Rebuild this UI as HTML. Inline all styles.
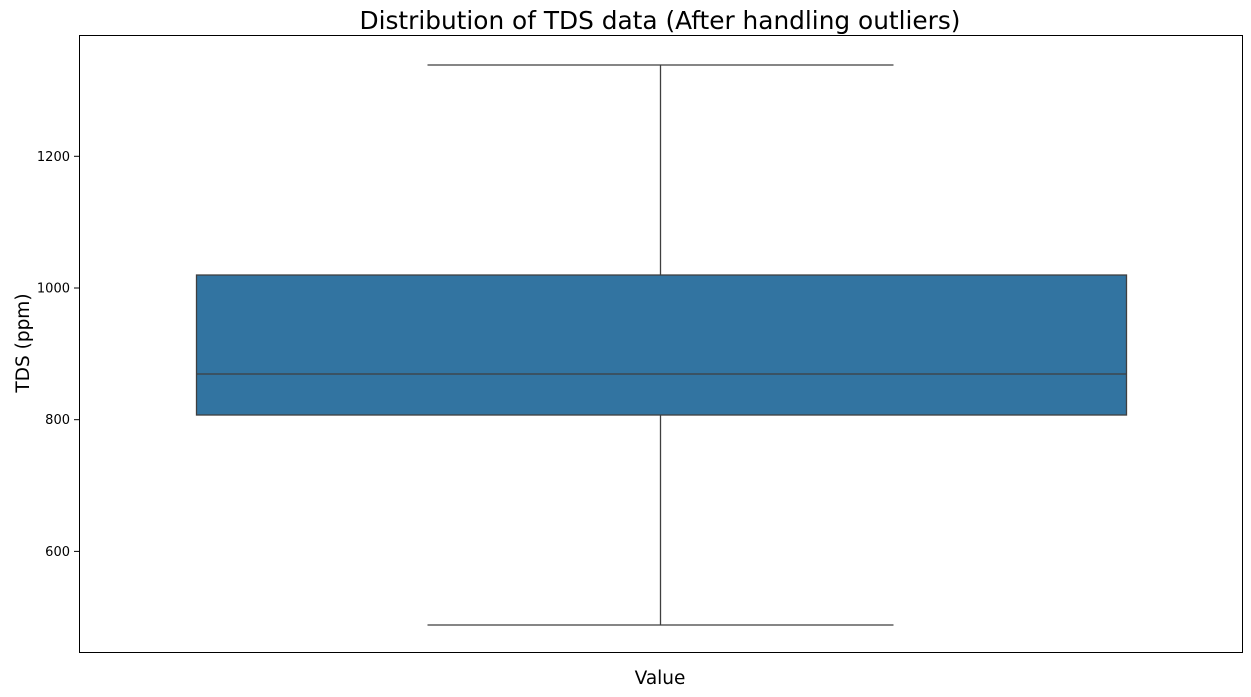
<!DOCTYPE html>
<html><head><meta charset="utf-8"><style>
html,body{margin:0;padding:0;background:#fff;}
svg{display:block;font-family:"DejaVu Sans","Liberation Sans",sans-serif;}
</style></head><body>
<svg id="chart" width="1251" height="697">
<text x="660" y="29" font-size="24.8" text-anchor="middle">Distribution of TDS data (After handling outliers)</text>
<text x="660" y="684" font-size="18.5" text-anchor="middle">Value</text>
<text transform="translate(29,343) rotate(-90)" font-size="18.5" text-anchor="middle">TDS (ppm)</text>
<g id="yticks"></g>
<g id="box"></g>
<rect x="79.5" y="35.5" width="1163" height="617" fill="none" stroke="#000" stroke-width="1"/>
</svg>
<script>
const stats = [488.2, 807.1, 869.4, 1019.7, 1338.6]; // min, q1, median, q3, max
const yTickValues = [600, 800, 1000, 1200];
const yDomain = [447.2, 1384.2];
const ns = "http://www.w3.org/2000/svg";
const plotTop = 35, plotBottom = 652;
function y(v){ return plotBottom - (v - yDomain[0]) / (yDomain[1] - yDomain[0]) * (plotBottom - plotTop); }
function mk(tag, attrs, parent){ const e = document.createElementNS(ns, tag); for (const k in attrs) e.setAttribute(k, attrs[k]); parent.appendChild(e); return e; }
const yt = document.getElementById('yticks');
yTickValues.forEach(v => {
  const l = mk('line', {x1:74, x2:79.5, y1:y(v), y2:y(v), stroke:'#000'}, yt);
  
  
  const t = mk('text', {x:70, y:y(v)+4.5, 'font-size':13, 'text-anchor':'end'}, yt);
  t.textContent = v;
  
  
});
const b = document.getElementById('box');
const cx = 660.5, bx1 = 196.5, bx2 = 1126.5, cap1 = 427.5, cap2 = 893.5, st = '#3f3f3f';
const w1 = mk('line', {x1:cx, x2:cx, y1:y(stats[0]), y2:y(stats[1]), stroke:st, 'stroke-width':1.3}, b);


const w2 = mk('line', {x1:cx, x2:cx, y1:y(stats[3]), y2:y(stats[4]), stroke:st, 'stroke-width':1.3}, b);


const c1 = mk('line', {x1:cap1, x2:cap2, y1:y(stats[0]), y2:y(stats[0]), stroke:st, 'stroke-width':1.3}, b);


const c2 = mk('line', {x1:cap1, x2:cap2, y1:y(stats[4]), y2:y(stats[4]), stroke:st, 'stroke-width':1.3}, b);


const r = mk('rect', {x:bx1, y:y(stats[3]), width:bx2-bx1, height:y(stats[1])-y(stats[3]), fill:'#3274a1', stroke:st, 'stroke-width':1.3}, b);


const m = mk('line', {x1:bx1, x2:bx2, y1:y(stats[2]), y2:y(stats[2]), stroke:st, 'stroke-width':1.3}, b);


</script>
</body></html>
